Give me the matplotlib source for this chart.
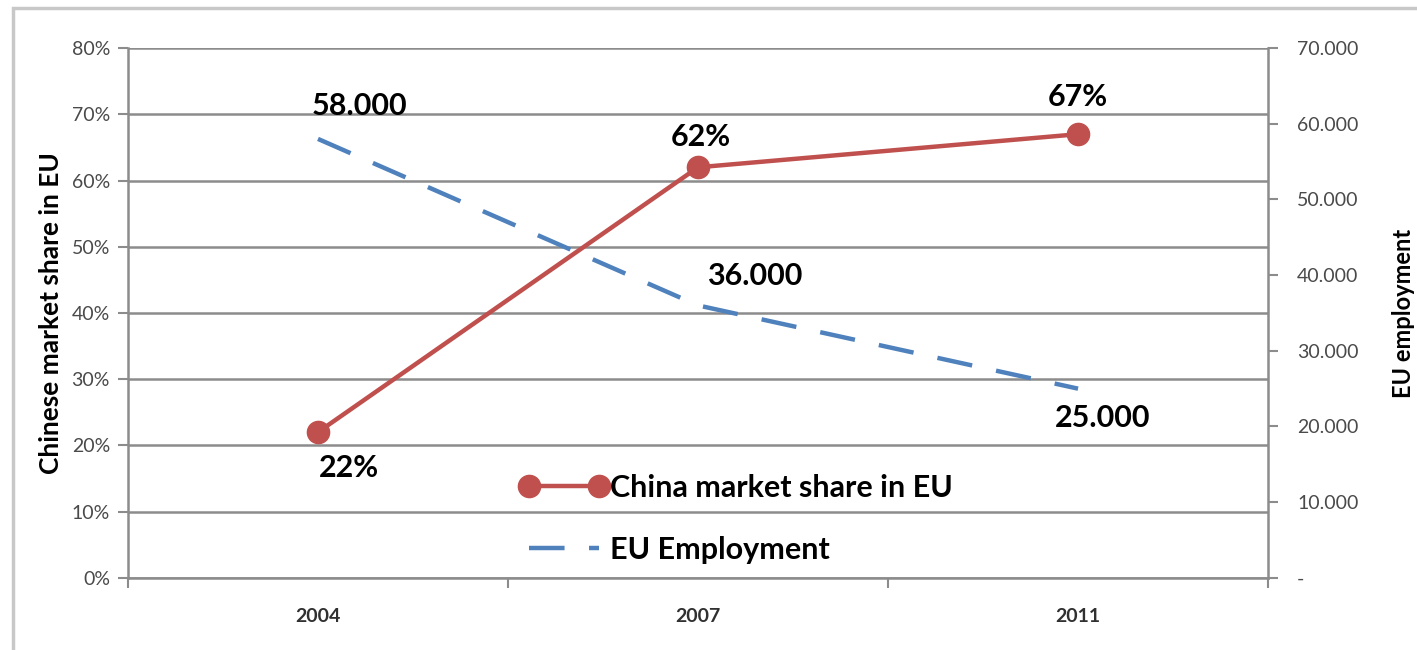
import matplotlib.pyplot as plt
from matplotlib.ticker import FixedLocator, FuncFormatter
from matplotlib.patches import Rectangle

plt.rcParams['font.family'] = ['Lato', 'DejaVu Sans']

years = ["2004", "2007", "2011"]
china_share = [0.22, 0.62, 0.67]
share_labels = ["22%", "62%", "67%"]
eu_employment = [58000, 36000, 25000]
employment_labels = ["58.000", "36.000", "25.000"]
left_ticks = [0, 0.1, 0.2, 0.3, 0.4, 0.5, 0.6, 0.7, 0.8]
right_ticks = [0, 10000, 20000, 30000, 40000, 50000, 60000, 70000]

red = "#C0504D"
blue = "#4F81BD"
grid_col = "#8C8C8C"
tick_col = "#4A4A4A"

fig = plt.figure(figsize=(14.17, 6.5), dpi=100)
ax = fig.add_axes([0.0903, 0.111, 0.8046, 0.815])
ax2 = ax.twinx()

x = list(range(len(years)))

# ---- left axis: market share
l1, = ax.plot(x, china_share, color=red, lw=3.2, marker="o", markersize=16,
              label="China market share in EU", zorder=5)
ax.set_ylim(0, 0.8)
ax.set_xlim(-0.5, 2.5)
ax.yaxis.set_major_locator(FixedLocator(left_ticks))
ax.yaxis.set_major_formatter(FuncFormatter(lambda v, p: "%d%%" % round(v * 100)))
ax.grid(axis="y", color=grid_col, lw=1.8)
ax.set_axisbelow(True)
ax.set_xticks(x)
ax.set_xticklabels(years, fontweight="bold", fontsize=14, color="#303030")
ax.set_xticks([-0.5, 0.5, 1.5, 2.5], minor=True)
ax.tick_params(axis="x", which="major", length=0, pad=22)
ax.tick_params(axis="x", which="minor", length=7, color=grid_col, width=1.5)
ax.tick_params(axis="y", length=7, color=grid_col, width=1.5, labelsize=14,
               labelcolor=tick_col, pad=6)
ax.set_ylabel("Chinese market share in EU", fontsize=19, fontweight="bold", labelpad=6)

for sp in ["top", "right"]:
    ax.spines[sp].set_visible(False)
ax.spines["left"].set_color(grid_col)
ax.spines["left"].set_linewidth(1.8)
ax.spines["bottom"].set_color(grid_col)
ax.spines["bottom"].set_linewidth(1.8)

# ---- right axis: employment
l2, = ax2.plot(x, eu_employment, color=blue, lw=3.2, dashes=(8, 5.5),
               label="EU Employment", zorder=4)
ax2.set_ylim(0, 70000)
ax2.yaxis.set_major_locator(FixedLocator(right_ticks))
ax2.yaxis.set_major_formatter(FuncFormatter(
    lambda v, p: "-" if v == 0 else "{:,.0f}".format(v).replace(",", ".")))
ax2.tick_params(axis="y", length=7, color=grid_col, width=1.5, labelsize=14,
                labelcolor=tick_col, pad=14)
for sp in ["top", "left", "bottom"]:
    ax2.spines[sp].set_visible(False)
ax2.spines["right"].set_color(grid_col)
ax2.spines["right"].set_linewidth(1.8)
ax2.set_ylabel("EU employment", fontsize=17, fontweight="bold", labelpad=24)

# ---- data labels
share_offsets = [(22, -26), (2, 22), (0, 27)]
for xi, v, t, off in zip(x, china_share, share_labels, share_offsets):
    ax.annotate(t, (xi, v), xytext=off, textcoords="offset points",
                ha="center", va="center", fontsize=22, fontweight="bold", zorder=6)

emp_offsets = [(30, 24), (41, 21), (18, -21)]
for xi, v, t, off in zip(x, eu_employment, employment_labels, emp_offsets):
    ax2.annotate(t, (xi, v), xytext=off, textcoords="offset points",
                 ha="center", va="center", fontsize=22, fontweight="bold", zorder=6)

# ---- legend
leg = ax2.legend(handles=[l1, l2], loc="upper left", bbox_to_anchor=(0.33, 0.225),
                 frameon=False, fontsize=22, handlelength=2.9, handletextpad=0.05,
                 labelspacing=1.1, borderpad=0, numpoints=2)
for t in leg.get_texts():
    t.set_fontweight("bold")

# ---- outer frame
fig.patches.append(Rectangle((0.009, -0.05), 1.2, 1.038, transform=fig.transFigure,
                             fill=False, edgecolor="#C8C8C8", lw=2.5))

fig.savefig("out.png", dpi=100)
